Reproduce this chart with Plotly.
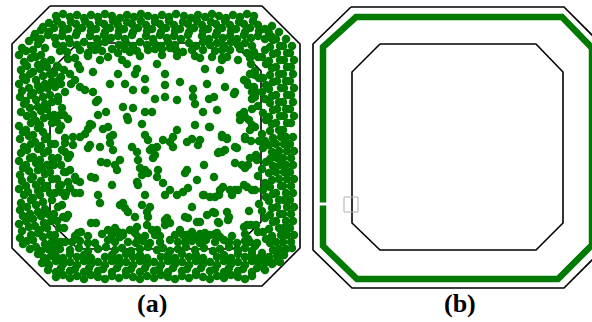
import plotly.graph_objects as go

GREEN = "#007a00"

# Octagon outlines (vertex lists, closed by repeating the first vertex)
outer_a = [(50, 6), (262, 6), (300, 44), (300, 248), (262, 286), (50, 286), (12, 248), (12, 44)]
inner_a = [(78, 43), (233, 43), (261, 71), (261, 222), (233, 249), (78, 249), (50, 222), (50, 71)]
outer_b = [(351, 7), (564, 7), (603, 46), (603, 249), (564, 288), (352, 288), (313, 250), (313, 44)]
inner_b = [(380, 44), (536, 44), (563, 72), (563, 223), (536, 250), (380, 250), (352, 223), (352, 72)]

# Sensor track of panel (b), with a small break on the left side
ring_b = [(323, 205.5), (323, 246), (357, 279), (558, 279), (592, 245), (592, 48), (562, 17), (356, 17), (323, 47), (323, 202.5)]

# Node positions of panel (a)
top_band = [
    (56,16),(63,14),(70,17),(77,15),(84,18),(91,15),(98,17),(105,14),(112,16),(120,18),(127,15),(134,17),(141,14),(148,16),
    (155,18),(162,15),(169,17),(176,14),(184,16),(191,18),(198,15),(205,17),(212,14),(219,16),(226,18),(233,15),(240,17),
    (247,14),(254,16),
    (49,23),(57,21),(62,25),(71,22),(76,24),(85,21),(90,25),(99,22),(104,24),(113,21),(118,25),(127,22),(132,24),(141,21),
    (146,25),(155,22),(160,24),(169,21),(174,25),(183,22),(188,24),(197,21),(202,25),(211,22),(216,24),(225,21),(230,25),
    (239,22),(244,24),(253,21),(258,25),
    (41,30),(49,32),(54,28),(63,31),(68,29),(77,32),(82,28),(91,31),(96,29),(105,32),(110,28),(119,31),(124,29),(133,32),
    (138,28),(147,31),(152,29),(161,32),(166,28),(175,31),(180,29),(189,32),(194,28),(203,31),(208,29),(217,32),(222,28),
    (231,31),(236,29),(245,32),(250,28),(259,31),(265,29),
    (34,37),(41,39),(48,35),(55,38),(62,36),(69,39),(76,35),(90,36),(97,39),(104,35),(111,38),(118,36),(125,39),(132,35),
    (146,36),(153,39),(160,35),(167,38),(174,36),(181,39),(188,35),(202,36),(209,39),(216,35),(223,38),(230,36),(237,39),
    (244,35),(251,38),(258,36),(265,39),(272,37),
    (56,44),(63,46),(70,43),(77,45),(84,42),(91,46),(98,44),(105,42),(119,45),(126,43),(133,46),(140,42),(147,45),(154,43),
    (161,46),(168,42),(175,45),(189,43),(196,46),(203,42),(210,45),(217,43),(224,46),(231,42),(238,45),(245,43),(252,46),
    (60,51),(67,52),(80,50),(88,53),(95,50),(102,51),(112,49),(118,53),(125,49),(130,52),(137,51),(148,50),(155,49),
    (162,49),(170,48),(176,50),(183,52),(192,50),(203,50),(215,51),(222,50),(230,50),(240,49),(247,53),(254,52),
    (68,59),(75,58),(88,56),(100,60),(108,57),(122,60),(140,56),(162,55),(177,56),(195,56),(200,58),(212,57),(222,58),
    (227,57),(238,60),(250,58),
]

left_band = [
    (22,48),(19,55),(24,62),(21,70),(23,77),(19,84),(22,91),(20,97),(24,104),(21,112),(19,126),(23,132),(20,139),(24,147),
    (21,153),(19,161),(23,168),(20,175),(22,181),(19,189),(24,195),(21,203),(20,210),(23,216),(19,224),(22,231),(20,238),
    (23,244),
    (29,41),(26,51),(31,58),(27,66),(30,74),(26,80),(29,88),(31,95),(26,101),(30,108),(27,116),(31,123),(26,130),(29,136),
    (31,144),(27,150),(30,158),(26,165),(29,171),(31,179),(26,186),(28,192),(31,200),(27,207),(30,214),(26,221),(29,227),
    (31,235),(27,241),(30,249),
    (35,34),(38,44),(33,50),(36,57),(38,65),(33,72),(36,80),(38,86),(33,93),(36,100),(38,107),(33,115),(36,121),(38,128),
    (33,135),(35,142),(38,149),(33,157),(36,163),(38,170),(33,177),(36,185),(38,191),(33,198),(36,205),(38,212),(33,219),
    (35,226),(38,233),(33,240),(36,247),(38,254),
    (43,27),(40,40),(45,48),(41,55),(44,62),(40,69),(43,76),(45,84),(40,90),(43,97),(45,104),(41,111),(44,118),(40,125),
    (43,132),(45,139),(41,146),(44,153),(40,160),(43,167),(45,174),(41,181),(44,188),(40,195),(43,202),(45,209),(41,216),
    (44,223),(40,230),(43,237),(45,244),(41,251),(44,258),
    (51,60),(47,67),(50,74),(52,81),(47,88),(50,95),(52,102),(47,109),(50,116),(52,123),(47,137),(51,144),(48,151),
    (52,158),(47,165),(50,172),(52,179),(47,186),(50,193),(52,200),(48,214),(51,221),(47,228),(50,235),(52,242),(48,249),
    (51,256),(47,263),
    (57,66),(54,73),(59,80),(55,87),(58,101),(54,115),(57,122),(59,130),(55,144),(58,158),(54,165),(57,179),(59,186),
    (55,193),(58,207),(54,214),(57,221),(59,228),(55,235),(58,242),(54,249),
    (64,70),(61,84),(65,92),(62,108),(64,115),(61,126),(65,138),(62,150),(64,172),(61,185),(65,196),(62,205),(64,228),
    (61,242),
]

right_band = [
    (292,46),(290,53),(294,60),(291,67),(293,74),(290,81),(294,88),(291,95),(293,102),(290,109),(294,116),(291,123),
    (293,137),(290,144),(294,151),(291,158),(293,165),(290,172),(294,179),(291,186),(293,193),(290,200),(294,207),(291,214),
    (293,221),(290,228),(294,235),(291,242),(292,248),
    (286,39),(283,46),(287,53),(284,60),(287,67),(283,74),(286,81),(284,88),(287,95),(283,102),(286,109),(284,116),
    (287,123),(283,130),(286,137),(284,144),(287,151),(283,158),(286,165),(284,172),(287,179),(283,186),(286,193),(284,200),
    (287,207),(283,214),(286,221),(284,228),(287,235),(283,242),(286,249),(284,255),
    (279,32),(276,39),(280,46),(277,53),(280,60),(276,67),(279,74),(277,81),(281,88),(276,95),(279,102),(277,109),
    (280,116),(276,123),(279,130),(281,137),(276,144),(279,151),(277,158),(280,165),(276,172),(279,179),(281,186),(276,193),
    (279,200),(277,207),(280,214),(276,221),(279,228),(281,235),(276,242),(279,249),(277,256),(280,262),
    (272,26),(269,33),(273,40),(270,47),(273,54),(269,61),(272,68),(270,75),(273,82),(269,89),(272,96),(270,103),
    (273,110),(269,117),(272,124),(270,131),(273,138),(269,145),(272,152),(270,159),(273,166),(269,173),(272,180),(270,187),
    (273,194),(269,201),(272,208),(270,215),(273,222),(269,229),(272,236),(270,243),(273,250),(269,257),(272,264),
    (265,50),(262,57),(266,64),(263,78),(266,85),(262,92),(265,99),(263,113),(266,120),(262,134),(265,141),(263,148),
    (266,162),(262,169),(265,183),(263,190),(266,197),(262,211),(265,218),(263,232),(266,239),(262,253),(265,260),(263,267),
    (258,57),(255,71),(259,78),(256,92),(258,106),(255,127),(259,141),(256,155),(258,176),(255,190),(259,204),(256,225),
    (258,232),(255,246),
    (251,64),(248,85),(252,99),(249,120),(251,141),(248,165),(252,190),(249,211),(251,225),(248,239),
]

bottom_band = [
    (56,277),(63,275),(70,278),(77,276),(84,279),(91,275),(98,277),(105,279),(112,276),(119,278),(126,275),(133,277),
    (140,279),(147,276),(154,278),(161,275),(168,277),(175,279),(182,276),(189,278),(196,275),(203,277),(210,279),
    (217,276),(224,278),(231,275),(238,277),(245,279),(252,276),
    (48,270),(56,272),(61,268),(70,271),(75,269),(84,272),(89,268),(98,271),(103,269),(112,272),(117,268),(126,271),
    (131,269),(140,272),(145,268),(154,271),(159,269),(168,272),(173,268),(182,271),(187,269),(196,272),(201,268),
    (210,271),(215,269),(224,272),(229,268),(238,271),(243,269),(252,272),(257,268),(265,270),
    (42,263),(49,265),(56,261),(63,264),(70,262),(77,265),(84,261),(91,264),(98,262),(105,265),(112,261),(119,264),
    (126,262),(133,265),(140,261),(147,264),(154,262),(161,265),(168,261),(175,264),(182,262),(189,265),(196,261),
    (203,264),(210,262),(217,265),(224,261),(231,264),(238,262),(245,265),(252,261),(259,264),(266,262),(273,263),
    (56,256),(63,258),(70,254),(77,257),(84,255),(91,258),(105,257),(112,255),(119,258),(126,254),(133,257),(140,255),
    (147,258),(161,257),(168,255),(175,258),(182,254),(189,257),(196,255),(203,258),(217,257),(224,255),(231,258),
    (238,254),(245,257),(252,255),(259,258),
    (60,249),(70,250),(79,248),(88,251),(98,249),(106,247),(115,250),(122,248),(131,251),(140,249),(148,247),(157,250),
    (163,248),(170,251),(178,249),(186,247),(195,250),(204,248),(213,251),(220,249),(229,247),(238,250),(245,248),
    (252,251),
    (65,242),(72,242),(80,241),(88,243),(95,243),(108,240),(115,242),(128,242),(136,243),(143,241),(150,243),(160,242),
    (170,240),(178,242),(185,242),(192,241),(200,243),(206,240),(215,242),(228,242),(237,243),(245,241),(250,242),
    (257,243),
    (75,236),(88,236),(102,234),(112,235),(123,235),(145,236),(160,236),(187,235),(200,234),(215,234),(232,236),
    (245,234),
]

interior = [
    (58,67),(61,77),(70,74),(78,65),(80,69),(88,55),(93,72),(71,84),(75,80),(80,87),(85,90),(93,92),(98,100),(96,102),
    (58,97),(60,115),(68,119),(90,124),(88,129),(85,134),(80,137),(73,137),(103,129),(106,112),
    (127,64),(137,69),(135,74),(118,74),(157,64),(165,74),(145,79),(180,82),(110,84),(125,84),(133,90),(145,90),(165,85),
    (165,97),(193,89),(155,99),(177,100),(123,107),(133,108),(145,112),(152,112),(127,117),(128,120),(142,124),(193,97),
    (195,104),(203,112),(108,127),(110,137),(145,135),(148,140),(163,140),(173,137),(177,130),(195,125),(192,139),(200,140),
    (98,115),(92,125),(113,135),(217,110),(210,127),(222,137),(227,138),(235,147),(245,137),(245,117),(240,115),
    (100,147),(110,143),(132,147),(152,148),(157,147),(173,147),
    (205,69),(222,60),(220,70),(207,84),(225,87),(235,92),(234,94),(244,80),(247,82),(250,74),(255,75),(254,87),(252,92),
    (255,97),(209,99),(214,97),(244,112),(242,117),(240,120),(252,109),(209,127),(252,125),(250,130),(222,135),(227,139),
    (245,139),
    (65,143),(73,145),(90,145),(137,152),(150,150),(155,155),(153,158),(170,142),(187,142),(198,145),(218,153),(222,152),
    (113,150),(107,163),(120,160),(115,165),(117,170),(112,185),(138,160),(140,168),(145,170),(142,175),(148,173),
    (137,182),(138,185),(158,170),(157,177),(163,183),(170,190),(165,195),(177,195),(183,192),(188,188),(197,180),
    (185,173),(187,170),(145,195),(120,205),(123,203),(128,212),(125,208),(142,205),(150,207),(147,212),(148,217),
    (135,217),(165,220),(165,225),(157,230),(155,235),(185,217),(192,207),(197,222),(203,195),(108,230),(118,232),
    (120,237),(130,230),(135,233),(138,237),(175,235),(183,235),(192,232),(195,238),
    (204,165),(214,177),(219,152),(225,150),(235,163),(242,165),(245,168),(237,148),(250,158),(257,160),(204,195),
    (215,197),(219,195),(232,195),(235,190),(244,185),(247,187),(207,215),(215,213),(219,223),(227,212),(229,217),
    (205,233),(210,235),(217,233),(224,240),(229,242),(244,227),(247,225),
    (65,152),(70,155),(68,158),(61,165),(70,170),(66,172),(88,148),(101,162),(91,177),(95,178),(75,177),(76,180),
    (68,182),(80,182),(61,192),(66,193),(70,188),(75,193),(80,193),(98,195),(100,203),(63,217),(66,218),(68,215),
    (91,223),(96,223),(78,233),(81,232),
    (210,197),(220,190),(223,187),(230,190),(238,190),(213,212),(218,222),(228,220),(188,218),(200,222),(167,218),
    (170,223),(115,228),(123,233),(137,227),(147,225),(152,230),(180,230),(187,235),(200,237),(220,237),
]

# Small marker box in panel (b)
marker_box = (344, 197, 358, 212)

panel_labels = ["(a)", "(b)"]
label_x = [152, 460]
label_y = [303, 303]


def closed(poly):
    pts = list(poly) + [poly[0]]
    return [p[0] for p in pts], [p[1] for p in pts]


fig = go.Figure()

for poly in (outer_a, inner_a, outer_b, inner_b):
    xs, ys = closed(poly)
    fig.add_trace(go.Scatter(x=xs, y=ys, mode="lines", line=dict(color="black", width=1.6),
                             hoverinfo="skip", showlegend=False))

fig.add_trace(go.Scatter(x=[p[0] for p in ring_b], y=[p[1] for p in ring_b], mode="lines",
                         line=dict(color=GREEN, width=6.5), hoverinfo="skip", showlegend=False))

nodes = top_band + left_band + right_band + bottom_band + interior
fig.add_trace(go.Scatter(x=[p[0] for p in nodes], y=[p[1] for p in nodes], mode="markers",
                         marker=dict(color=GREEN, size=8.5, line=dict(width=0)),
                         hoverinfo="skip", showlegend=False))

fig.add_shape(type="rect", x0=marker_box[0], y0=marker_box[1], x1=marker_box[2], y1=marker_box[3],
              line=dict(color="#b0b0b0", width=1), fillcolor="rgba(0,0,0,0)")

for t, x, y in zip(panel_labels, label_x, label_y):
    fig.add_annotation(x=x, y=y, text="<b>" + t + "</b>", showarrow=False, xanchor="center", yanchor="middle",
                       font=dict(family="Liberation Serif, Times New Roman, serif", size=26, color="black"))

fig.update_layout(
    width=592, height=322, autosize=False,
    margin=dict(l=0, r=0, t=0, b=0, pad=0),
    paper_bgcolor="white", plot_bgcolor="white",
    xaxis=dict(range=[0, 592], visible=False, fixedrange=True),
    yaxis=dict(range=[322, 0], visible=False, fixedrange=True),
)

fig.write_html("out.html")
